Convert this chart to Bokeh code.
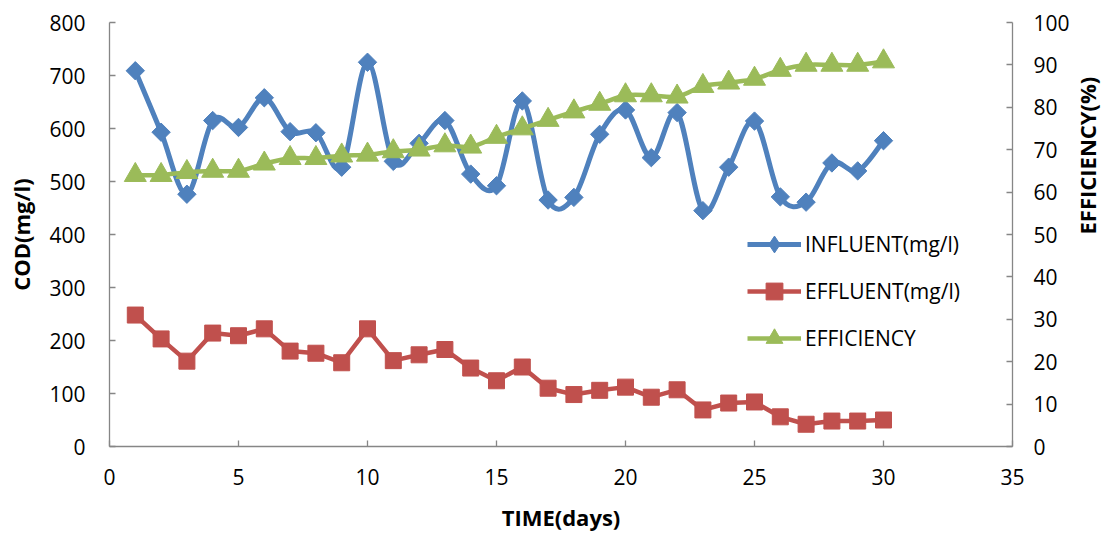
from bokeh.plotting import figure
from bokeh.models import Range1d, LinearAxis, FixedTicker, Legend, LegendItem, ColumnDataSource
from bokeh.embed import file_html
from bokeh.resources import INLINE
import math

# ---- data ----
days = list(range(1, 31))
influent = [709, 593, 476, 615, 602, 658, 594, 592, 527, 725,
            538, 572, 615, 514, 492, 652, 465, 470, 589, 635,
            545, 630, 445, 527, 614, 471, 461, 535, 520, 577]
effluent = [248, 203, 161, 214, 209, 222, 180, 176, 158, 222,
            162, 173, 183, 148, 124, 150, 110, 98, 106, 112,
            93, 107, 69, 82, 84, 56, 42, 48, 48, 50]
efficiency = [64, 64, 64.7, 65, 65, 66.7, 68, 68, 68.6, 68.8,
              69.6, 70, 71, 70.7, 73, 75, 77, 79, 80.8, 82.8,
              82.8, 82.5, 85, 85.8, 86.7, 88.8, 90, 90, 90, 90.8]
x_ticks = [0, 5, 10, 15, 20, 25, 30, 35]
cod_ticks = [0, 100, 200, 300, 400, 500, 600, 700, 800]
eff_ticks = [0, 10, 20, 30, 40, 50, 60, 70, 80, 90, 100]

BLUE = "#4F81BD"
RED = "#C0504D"
GREEN = "#9BBB59"
AXIS = "#868686"
FONT = "Open Sans"


def smooth_segments(xs, ys):
    """Cubic Bezier control points (Excel-like smoothing) for consecutive points."""
    n = len(xs)
    seg = dict(x0=[], y0=[], x1=[], y1=[], cx0=[], cy0=[], cx1=[], cy1=[])
    for i in range(n - 1):
        xp, yp = (xs[i - 1], ys[i - 1]) if i > 0 else (xs[i], ys[i])
        xn2, yn2 = (xs[i + 2], ys[i + 2]) if i + 2 < n else (xs[i + 1], ys[i + 1])
        seg["x0"].append(xs[i]); seg["y0"].append(ys[i])
        seg["x1"].append(xs[i + 1]); seg["y1"].append(ys[i + 1])
        seg["cx0"].append(xs[i] + (xs[i + 1] - xp) / 6.0)
        seg["cy0"].append(ys[i] + (ys[i + 1] - yp) / 6.0)
        seg["cx1"].append(xs[i + 1] - (xn2 - xs[i]) / 6.0)
        seg["cy1"].append(ys[i + 1] - (yn2 - ys[i]) / 6.0)
    return ColumnDataSource(seg)


p = figure(width=1119, height=537, output_backend="svg", toolbar_location=None,
           x_range=Range1d(0, 35), y_range=Range1d(0, 800),
           min_border_left=109, min_border_right=103, min_border_top=22, min_border_bottom=91)
p.extra_y_ranges = {"eff": Range1d(0, 100)}
p.outline_line_color = None
p.xgrid.grid_line_color = None
p.ygrid.grid_line_color = None
p.background_fill_color = "white"
p.border_fill_color = "white"

# influent (smoothed)
inf_l = p.bezier(x0="x0", y0="y0", x1="x1", y1="y1", cx0="cx0", cy0="cy0", cx1="cx1", cy1="cy1",
                 source=smooth_segments(days, influent), line_color=BLUE, line_width=5)
inf_m = p.scatter(days, influent, marker="square", angle=math.pi / 4, size=13,
                  fill_color=BLUE, line_color=BLUE)
# legend stand-in for the diamond marker (legend ignores marker rotation)
inf_leg = p.scatter(days, influent, marker="diamond", size=13, fill_color=BLUE,
                    line_color=BLUE, visible=False)
# effluent (straight)
eff_l = p.line(days, effluent, line_color=RED, line_width=4.5)
eff_m = p.scatter(days, effluent, marker="square", size=16, fill_color=RED, line_color=RED)
# efficiency (smoothed, right axis)
effc_l = p.bezier(x0="x0", y0="y0", x1="x1", y1="y1", cx0="cx0", cy0="cy0", cx1="cx1", cy1="cy1",
                  source=smooth_segments(days, efficiency), line_color=GREEN, line_width=4.5,
                  y_range_name="eff")
effc_m = p.scatter(days, efficiency, marker="triangle", size=22, fill_color=GREEN,
                   line_color=GREEN, y_range_name="eff")

right = LinearAxis(y_range_name="eff")
p.add_layout(right, "right")

for ax in [p.xaxis[0], p.yaxis[0], right]:
    ax.axis_line_color = AXIS
    ax.axis_line_width = 1.3
    ax.major_tick_line_color = AXIS
    ax.major_tick_line_width = 1.3
    ax.major_tick_in = 6
    ax.major_tick_out = 0
    ax.minor_tick_line_color = None
    ax.major_label_text_font = FONT
    ax.major_label_text_font_size = "21px"
    ax.major_label_text_color = "black"
    ax.axis_label_text_font = FONT
    ax.axis_label_text_font_style = "bold"
    ax.axis_label_text_font_size = "22px"
    ax.axis_label_text_color = "black"

p.xaxis[0].ticker = FixedTicker(ticks=x_ticks)
p.yaxis[0].ticker = FixedTicker(ticks=cod_ticks)
right.ticker = FixedTicker(ticks=eff_ticks)
p.xaxis[0].axis_label = "TIME(days)"
p.yaxis[0].axis_label = "COD(mg/l)"
p.xaxis[0].major_label_standoff = 22
p.xaxis[0].axis_label_standoff = 14
p.yaxis[0].major_label_standoff = 24
p.yaxis[0].axis_label_standoff = 10
right.major_label_standoff = 21

# title-only axis for the right side, text reading bottom-to-top
right_title = LinearAxis(y_range_name="eff", ticker=FixedTicker(ticks=[]), bounds=(0, 58.5),
                         axis_label="EFFICIENCY(%)", axis_label_orientation=math.pi / 2)
right_title.axis_line_color = None
right_title.major_tick_line_color = None
right_title.minor_tick_line_color = None
right_title.major_tick_in = 0
right_title.major_tick_out = 0
right_title.major_label_standoff = 0
right_title.axis_label_standoff = 14
right_title.axis_label_text_font = FONT
right_title.axis_label_text_font_style = "bold"
right_title.axis_label_text_font_size = "22px"
right_title.axis_label_text_color = "black"
p.add_layout(right_title, "right")

legend = Legend(items=[
    LegendItem(label="INFLUENT(mg/l)", renderers=[inf_l, inf_leg]),
    LegendItem(label="EFFLUENT(mg/l)", renderers=[eff_l, eff_m]),
    LegendItem(label="EFFICIENCY", renderers=[effc_l, effc_m]),
], location=(638, 87))
legend.border_line_color = None
legend.background_fill_alpha = 0
legend.padding = 0
legend.margin = 0
legend.spacing = 5
legend.glyph_width = 54
legend.glyph_height = 42
legend.label_standoff = 4
legend.label_text_font = FONT
legend.label_text_font_size = "21px"
legend.label_text_color = "black"
p.add_layout(legend, "center")

open("out.html", "w").write(file_html(p, INLINE))
